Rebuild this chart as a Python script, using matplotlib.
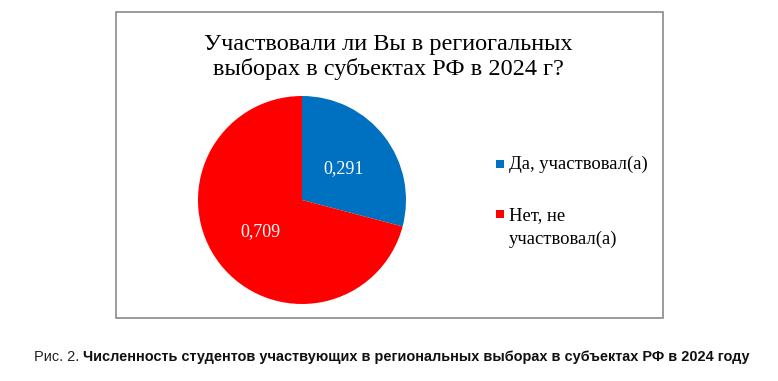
import matplotlib
matplotlib.use('Agg')
import matplotlib.pyplot as plt
from matplotlib.patches import Rectangle

# data
labels = ['Да, участвовал(а)', 'Нет, не\nучаствовал(а)']
shares = [0.291, 0.709]
colors = ['#0070C0', '#FF0000']

title = 'Участвовали ли Вы в региогальных\nвыборах в субъектах РФ в 2024 г?'
caption_prefix = 'Рис. 2. '
caption_text = 'Численность студентов участвующих в региональных выборах в субъектах РФ в 2024 году'

W, H = 778, 381
fig = plt.figure(figsize=(W / 100, H / 100), dpi=100, facecolor='white')

serif = ['Liberation Serif', 'DejaVu Serif']
narrow = ['Liberation Sans Narrow', 'Liberation Sans', 'DejaVu Sans']


def fx(px):
    return px / W


def fy(py):
    return 1 - py / H


# chart frame
fig.patches.append(Rectangle((fx(116), fy(318)), fx(663) - fx(116), fy(12) - fy(318),
                             transform=fig.transFigure, fill=False,
                             edgecolor='#8a8a8a', linewidth=1.2))

# pie
cx, cy, r = 302, 200, 104
ax = fig.add_axes([fx(cx - r), fy(cy + r), 2 * r / W, 2 * r / H])
wedges, _, autotexts = ax.pie(shares, colors=colors, startangle=90, counterclock=False,
                              radius=1, pctdistance=0.5,
                              autopct=lambda p: f'{p / 100:.3f}'.replace('.', ','),
                              wedgeprops=dict(linewidth=0))
for t in autotexts:
    t.set_color('white')
    t.set_fontsize(13)
    t.set_family(serif)
ax.set_xlim(-1, 1)
ax.set_ylim(-1, 1)
ax.set_aspect('equal')
ax.axis('off')

# title (baseline of the last line)
fig.text(fx(388), fy(75), title, ha='center', va='baseline', fontsize=17.5,
         family=serif, linespacing=1.18)

# legend
marker_y = [164, 214]
text_y = [164, 227.5]
for lab, col, my, ty in zip(labels, colors, marker_y, text_y):
    fig.patches.append(Rectangle((fx(496), fy(my + 4)), 8 / W, 8 / H,
                                 transform=fig.transFigure, facecolor=col, edgecolor='none'))
    fig.text(fx(509), fy(ty), lab, ha='left', va='center',
             fontsize=13.4, family=serif, linespacing=1.55)

# caption: regular prefix + bold body, fitted to the width of the original
renderer = fig.canvas.get_renderer()
size = 9.5
x0, x1 = 34, 750
for _ in range(3):
    t1 = fig.text(fx(x0), fy(361), caption_prefix, ha='left', va='baseline',
                  fontsize=size, family=narrow, color='#222222')
    w1 = t1.get_window_extent(renderer).width
    t2 = fig.text(fx(x0 + w1), fy(361), caption_text, ha='left', va='baseline',
                  fontsize=size, family=narrow, fontweight='bold', color='#111111')
    w2 = t2.get_window_extent(renderer).width
    total = w1 + w2
    if abs(total - (x1 - x0)) < 3:
        break
    t1.remove()
    t2.remove()
    size = size * (x1 - x0) / total

fig.savefig('out.png', dpi=100, facecolor='white')
